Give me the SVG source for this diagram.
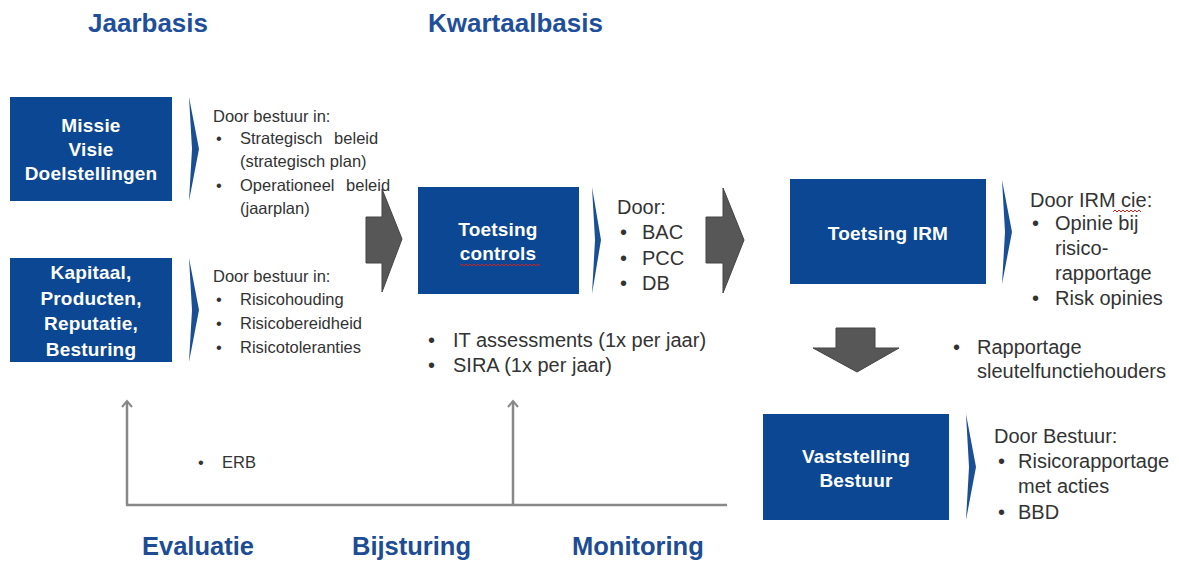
<svg xmlns="http://www.w3.org/2000/svg" width="1179" height="562" viewBox="0 0 1179 562">
<defs>
<style>
.hdr{font-family:"Liberation Sans",Arial,sans-serif;font-weight:bold;font-size:26px;fill:#1f4f9a}
.lbl{font-family:"Liberation Sans",Arial,sans-serif;font-weight:bold;font-size:25.5px;fill:#1d4c94}
.box{fill:#0b4792}
.bt{font-family:"Liberation Sans",Arial,sans-serif;font-weight:bold;font-size:19px;letter-spacing:0.2px;fill:#ffffff;text-anchor:middle}
.sm{font-family:"Liberation Sans",Arial,sans-serif;font-size:16.5px;fill:#333333}
.md{font-family:"Liberation Sans",Arial,sans-serif;font-size:20px;fill:#333333}
.chev{fill:#1a4f96}
.big{fill:#575757;stroke:#444444;stroke-width:1}
.conn{fill:none;stroke:#888888;stroke-width:2.5}
.wavy{fill:none;stroke:#d02020;stroke-width:1}
</style>
<marker id="open" viewBox="0 0 12 12" refX="10" refY="6" markerWidth="12" markerHeight="12" markerUnits="userSpaceOnUse" orient="auto">
<path d="M4,1 L10,6 L4,11" fill="none" stroke="#888888" stroke-width="2"/>
</marker>
</defs>
<rect width="1179" height="562" fill="#ffffff"/>

<text class="hdr" x="88" y="32">Jaarbasis</text>
<text class="hdr" x="428" y="32">Kwartaalbasis</text>

<g id="missie">
<rect class="box" x="10" y="97" width="162" height="104"/>
<text class="bt" x="91" y="132">Missie</text>
<text class="bt" x="91" y="156">Visie</text>
<text class="bt" x="91" y="180">Doelstellingen</text>
<polygon class="chev" points="189,97 199,149 189,201 192,149"/>
<text class="sm" x="213" y="122">Door bestuur in:</text>
<text class="sm" x="216" y="144">•</text><text class="sm" x="240" y="144" word-spacing="7">Strategisch beleid</text>
<text class="sm" x="240" y="167">(strategisch plan)</text>
<text class="sm" x="216" y="191">•</text><text class="sm" x="240" y="191" word-spacing="7">Operationeel beleid</text>
<text class="sm" x="240" y="214">(jaarplan)</text>
</g>

<g id="kapitaal">
<rect class="box" x="10" y="258" width="162" height="104"/>
<text class="bt" x="91" y="279">Kapitaal,</text>
<text class="bt" x="91" y="305">Producten,</text>
<text class="bt" x="91" y="330">Reputatie,</text>
<text class="bt" x="91" y="356">Besturing</text>
<polygon class="chev" points="189,258 199,310 189,362 192,310"/>
<text class="sm" x="213" y="282">Door bestuur in:</text>
<text class="sm" x="216" y="305">•</text><text class="sm" x="240" y="305">Risicohouding</text>
<text class="sm" x="216" y="329">•</text><text class="sm" x="240" y="329">Risicobereidheid</text>
<text class="sm" x="216" y="353">•</text><text class="sm" x="240" y="353">Risicotoleranties</text>
</g>

<g id="toetsing-controls">
<rect class="box" x="418" y="187" width="161" height="107"/>
<text class="bt" x="498" y="236">Toetsing</text>
<text class="bt" x="498" y="260">controls</text>
<path class="wavy" d="M460,266 l2,-2 l2,2 l2,-2 l2,2 l2,-2 l2,2 l2,-2 l2,2 l2,-2 l2,2 l2,-2 l2,2 l2,-2 l2,2 l2,-2 l2,2 l2,-2 l2,2 l2,-2 l2,2 l2,-2 l2,2 l2,-2 l2,2 l2,-2 l2,2 l2,-2 l2,2 l2,-2 l2,2 l2,-2 l2,2 l2,-2 l2,2 l2,-2 l2,2 l2,-2 l2,2 l2,-2 l2,2"/>
<polygon class="chev" points="592,187 601,240 592,294 595,240"/>
<text class="md" x="617" y="214">Door:</text>
<text class="md" x="620" y="239">•</text><text class="md" x="642" y="239">BAC</text>
<text class="md" x="620" y="265">•</text><text class="md" x="642" y="265">PCC</text>
<text class="md" x="620" y="290">•</text><text class="md" x="642" y="290">DB</text>
<text class="md" x="428" y="347">•</text><text class="md" x="453" y="347">IT assessments (1x per jaar)</text>
<text class="md" x="428" y="372">•</text><text class="md" x="453" y="372">SIRA (1x per jaar)</text>
</g>

<g id="toetsing-irm">
<rect class="box" x="790" y="179" width="196" height="105"/>
<text class="bt" x="888" y="240">Toetsing IRM</text>
<polygon class="chev" points="1002,180 1012,232 1002,284 1005,232"/>
<text class="md" x="1030" y="207">Door IRM cie:</text>
<path class="wavy" d="M1113,212 l2,-2 l2,2 l2,-2 l2,2 l2,-2 l2,2 l2,-2 l2,2 l2,-2 l2,2 l2,-2 l2,2 l2,-2 l2,2"/>
<text class="md" x="1032" y="230">•</text><text class="md" x="1055" y="230">Opinie bij</text>
<text class="md" x="1055" y="255">risico-</text>
<text class="md" x="1055" y="280">rapportage</text>
<text class="md" x="1032" y="305">•</text><text class="md" x="1055" y="305">Risk opinies</text>
<text class="md" x="953" y="354">•</text><text class="md" x="977" y="354">Rapportage</text>
<text class="md" x="977" y="378">sleutelfunctiehouders</text>
</g>

<g id="vaststelling">
<rect class="box" x="763" y="414" width="186" height="106"/>
<text class="bt" x="856" y="463">Vaststelling</text>
<text class="bt" x="856" y="487">Bestuur</text>
<polygon class="chev" points="966,414 976,467 966,520 969,467"/>
<text class="md" x="994" y="443">Door Bestuur:</text>
<text class="md" x="998" y="468">•</text><text class="md" x="1018" y="468">Risicorapportage</text>
<text class="md" x="1018" y="493">met acties</text>
<text class="md" x="998" y="519">•</text><text class="md" x="1018" y="519">BBD</text>
</g>

<g id="big-arrows">
<polygon class="big" points="366,217 382,217 382,189 402,239 382,292 382,263 366,263"/>
<polygon class="big" points="706,217 723,217 723,188 744,240 723,293 723,263 706,263"/>
<polygon class="big" points="836,328 875,328 875,348 899,348 857,372 813,348 836,348"/>
</g>

<g id="erb">
<text class="sm" x="198" y="468">•</text><text class="sm" x="222" y="468">ERB</text>
</g>

<g id="connectors">
<path class="conn" d="M127,505 L127,401" marker-end="url(#open)"/>
<path class="conn" d="M513,505 L513,401" marker-end="url(#open)"/>
<path class="conn" d="M126,505 L727,505"/>
</g>

<text class="lbl" x="142" y="555">Evaluatie</text>
<text class="lbl" x="352" y="555">Bijsturing</text>
<text class="lbl" x="572" y="555">Monitoring</text>
</svg>
